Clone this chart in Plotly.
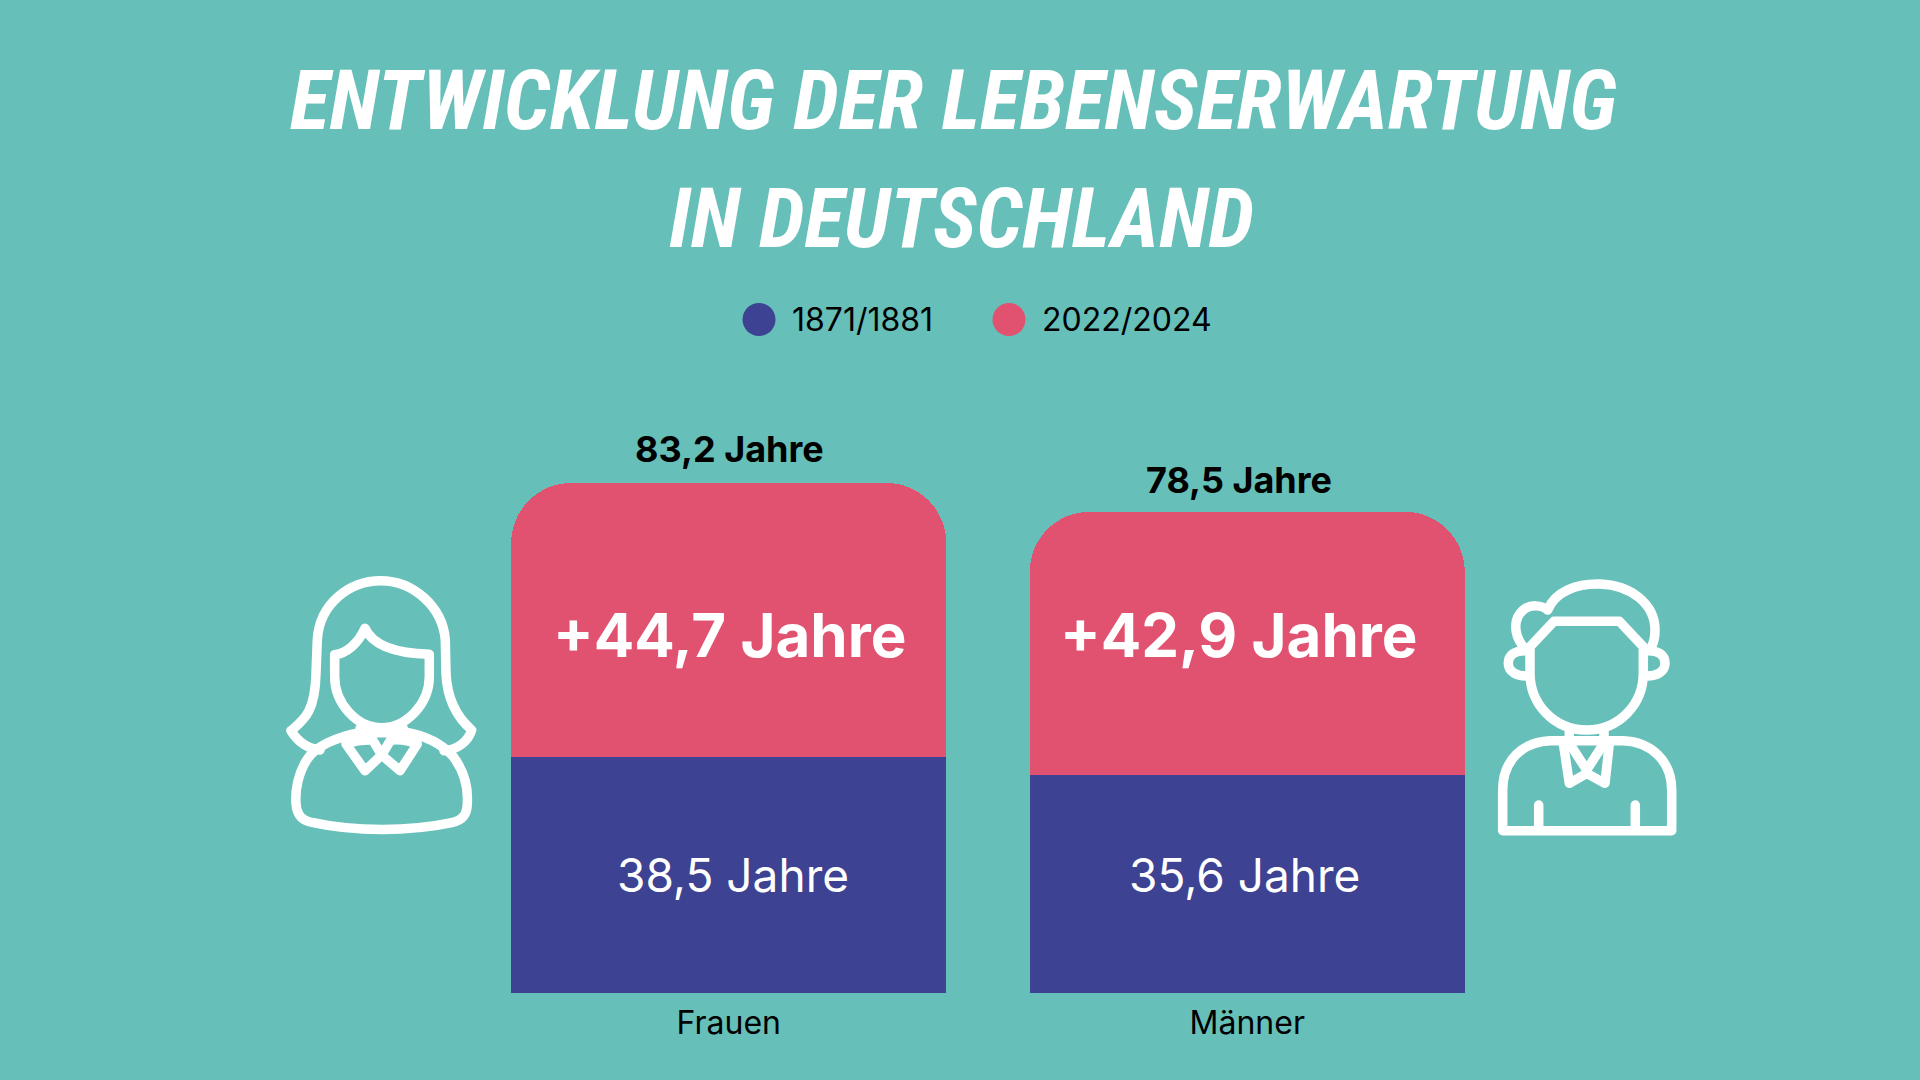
# Entwicklung der Lebenserwartung in Deutschland
import re
import plotly.graph_objects as go

# data
categories = ['Frauen', 'Männer']
years_old = [38.5, 35.6]
years_gain = [44.7, 42.9]
years_now = [83.2, 78.5]
legend_names = ['1871/1881', '2022/2024']
title_lines = ['ENTWICKLUNG DER LEBENSERWARTUNG', 'IN DEUTSCHLAND']

BG = '#66BFB8'
BLUE = '#3D4292'
RED = '#E15270'
FONT = 'Inter'
TITLE_FONT = 'Roboto Condensed'


def de(v):
    return f'{v:.1f}'.replace('.', ',')


# icon outlines at 3x (x y pairs)
WOMAN = [
    'M 180 570 C 140 565 110 540 93 512 C 130 480 165 460 168 340 L 172 240 '
    'C 178 130 270 62 362 62 C 460 62 548 140 556 240 L 558 340 '
    'C 562 430 600 480 635 510 C 625 545 590 570 552 572',
    'M 224 284 C 260 280 295 250 315 205 C 335 250 390 280 508 283 L 508 350 '
    'C 508 430 440 503 365 503 C 290 503 224 430 224 350 Z',
    'M 300 518 C 230 530 165 560 140 600 C 115 640 105 690 108 730 '
    'C 110 770 130 782 160 788 C 280 815 450 815 575 788 C 605 782 622 765 622 730 '
    'C 625 680 610 630 580 590 C 545 550 490 525 430 515',
    'M 300 505 L 300 518 L 430 518 L 430 505',
    'M 258 552 L 315 632 L 365 585 L 420 632 L 472 552',
    'M 325 518 L 365 585 L 405 518',
    'M 262 552 C 285 540 310 540 335 540',
    'M 395 540 C 420 538 445 540 468 552',
]
MAN = [
    'M 128 258 C 100 220 100 175 130 150 C 150 132 185 135 203 150 '
    'C 225 95 290 70 360 72 C 450 75 525 130 525 210 C 525 230 520 250 515 258',
    'M 150 260 L 222 184 L 418 184 L 490 260 L 490 340 '
    'C 490 430 420 510 320 510 C 220 510 150 430 150 340 Z',
    'M 140 272 C 105 270 85 285 85 310 C 85 335 110 350 145 348',
    'M 500 272 C 535 270 555 285 555 310 C 555 335 530 350 495 348',
    'M 268 510 L 268 535',
    'M 372 510 L 372 535',
    'M 68 812 L 68 690 C 68 600 130 545 210 542 L 430 542 '
    'C 510 545 575 600 575 690 L 575 812 Z',
    'M 250 550 L 268 670 L 320 640 L 375 670 L 388 550',
    'M 265 545 L 320 630 L 375 545',
    'M 176 735 L 176 810',
    'M 466 735 L 466 810',
]


def place(path, ox, oy):
    # zoom coordinates -> page pixels
    nums = iter(re.findall(r'[A-Z]|-?\d+\.?\d*', path))
    out = []
    for tok in nums:
        if tok.isalpha():
            out.append(tok)
        else:
            out.append(f'{ox + float(tok) / 3:.1f},{oy + float(next(nums)) / 3:.1f}')
    return ' '.join(out)


fig = go.Figure()
fig.add_trace(go.Bar(x=categories, y=years_old, name=legend_names[0], marker_color=BLUE,
                     marker_line_width=0, hoverinfo='skip'))
fig.add_trace(go.Bar(x=categories, y=years_gain, name=legend_names[1], marker_color=RED,
                     marker_line_width=0, hoverinfo='skip'))

shapes = []
for path in WOMAN:
    shapes.append(dict(type='path', xref='x2', yref='y2', path=place(path, 260, 560),
                       line=dict(color='white', width=9.5)))
for path in MAN:
    shapes.append(dict(type='path', xref='x2', yref='y2', path=place(path, 1480, 560),
                       line=dict(color='white', width=9.5)))
# legend dots
for cx, col in zip([759, 1009], [BLUE, RED]):
    shapes.append(dict(type='circle', xref='x2', yref='y2', x0=cx - 16.5, x1=cx + 16.5,
                       y0=303, y1=336, fillcolor=col, line_width=0))

ann = []
for line, tx, ty in zip(title_lines, [953, 961], [100, 218]):
    ann.append(dict(text=f'<b><i>{line}</i></b>', xref='x2', yref='y2', x=tx, y=ty,
                    showarrow=False, font=dict(family=TITLE_FONT, size=83, color='white')))
for name, tx in zip(legend_names, [790, 1040]):
    ann.append(dict(text=name, xref='x2', yref='y2', x=tx, y=319, xanchor='left',
                    showarrow=False, font=dict(family=FONT, size=32, color='black')))
for i, cat in enumerate(categories):
    ann.append(dict(text=f'<b>{de(years_now[i])} Jahre</b>', x=cat, y=years_now[i], yanchor='bottom',
                    xshift=[1, -8][i], yshift=[10, 8][i], showarrow=False,
                    font=dict(family=FONT, size=36, color='black')))
    ann.append(dict(text=f'<b>+{de(years_gain[i])} Jahre</b>', x=cat, yref='y2', y=635,
                    xshift=[1, -8][i], showarrow=False,
                    font=dict(family=FONT, size=60, color='white')))
    ann.append(dict(text=f'{de(years_old[i])} Jahre', x=cat, yref='y2', y=875,
                    xshift=[4, -3][i], showarrow=False,
                    font=dict(family=FONT, size=46, color='white')))

fig.update_layout(
    width=1920, height=1080,
    margin=dict(l=0, r=0, t=0, b=0),
    paper_bgcolor=BG, plot_bgcolor='rgba(0,0,0,0)',
    barmode='stack', bargap=0.161, barcornerradius=60,
    showlegend=False,
    xaxis=dict(domain=[469.5 / 1920, 1506.5 / 1920], showgrid=False, zeroline=False,
               showline=False, ticks='outside', ticklen=2, tickcolor=BG,
               tickfont=dict(family=FONT, size=32, color='black')),
    yaxis=dict(domain=[87 / 1080, 700 / 1080], range=[0, 100], visible=False),
    xaxis2=dict(domain=[0, 1], range=[0, 1920], visible=False, anchor='y2'),
    yaxis2=dict(domain=[0, 1], range=[1080, 0], visible=False, anchor='x2'),
    shapes=shapes,
    annotations=ann,
)

# no body margin, round stroke ends on the icons
post = ("document.body.style.margin='0';"
        "document.querySelectorAll('.shapelayer path').forEach(function(p){"
        "p.style.strokeLinejoin='round';p.style.strokeLinecap='round';});")
fig.write_html('out.html', config={'displayModeBar': False}, post_script=post)
